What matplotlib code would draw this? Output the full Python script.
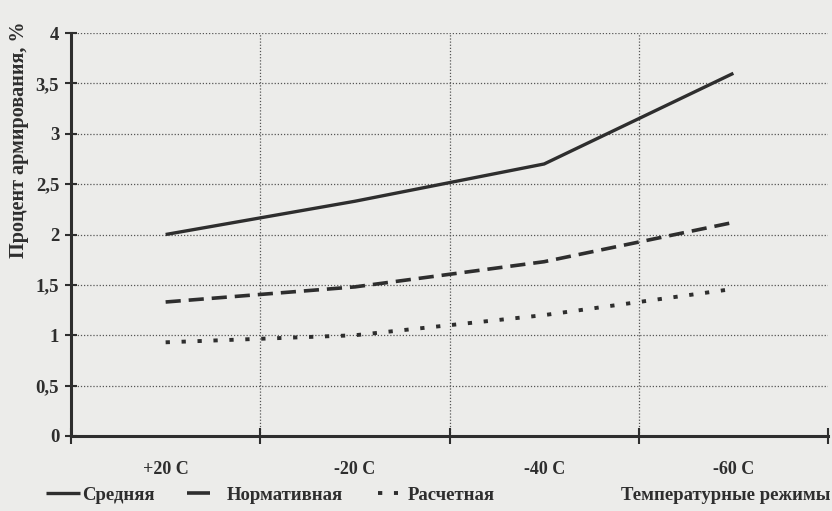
import matplotlib
matplotlib.use("Agg")
import matplotlib.pyplot as plt
from matplotlib.lines import Line2D
from matplotlib.ticker import FixedLocator, FixedFormatter

categories = ["+20 C", "-20 C", "-40 C", "-60 C"]
srednyaya = [2.0, 2.33, 2.7, 3.6]
normativnaya = [1.33, 1.48, 1.73, 2.12]
raschetnaya = [0.93, 1.0, 1.2, 1.46]
series_names = ["Средняя", "Нормативная", "Расчетная"]
y_ticks = [0, 0.5, 1, 1.5, 2, 2.5, 3, 3.5, 4]
y_tick_labels = ["0", "0,5", "1", "1,5", "2", "2,5", "3", "3,5", "4"]
x_title = "Температурные режимы"
y_title = "Процент армирования, %"

plt.rcParams['font.family'] = ['Liberation Serif', 'DejaVu Serif']
plt.rcParams['font.weight'] = 'bold'

bg = '#ececea'
ink = '#2e2e2e'
W, H = 832, 511
fig = plt.figure(figsize=(W / 100, H / 100), dpi=100, facecolor=bg)
ax = fig.add_axes([71 / W, 1 - 436 / H, (828 - 71) / W, (436 - 33) / H])
ax.set_facecolor(bg)

xs = [i + 0.5 for i in range(len(categories))]
l1, = ax.plot(xs, srednyaya, color=ink, lw=2.4, solid_capstyle='butt', label=series_names[0])
l2, = ax.plot(xs, normativnaya, color=ink, lw=2.6, dashes=(4.2, 2.2), dash_capstyle='butt', label=series_names[1])
l3, = ax.plot(xs, raschetnaya, color=ink, lw=2.8, dashes=(1.1, 3.0), dash_capstyle='butt', label=series_names[2])

ax.set_xlim(0, 4)
ax.set_ylim(0, 4)

for s in ['top', 'right']:
    ax.spines[s].set_visible(False)
for s in ['left', 'bottom']:
    ax.spines[s].set_linewidth(2.2)
    ax.spines[s].set_color(ink)

ax.yaxis.set_major_locator(FixedLocator(y_ticks))
ax.yaxis.set_major_formatter(FixedFormatter(y_tick_labels))
ax.tick_params(axis='y', direction='inout', length=9, width=1.5, colors=ink, labelsize=13.5, pad=4)

ax.xaxis.set_major_locator(FixedLocator([0, 1, 2, 3, 4]))
ax.xaxis.set_major_formatter(FixedFormatter(["", "", "", "", ""]))
ax.xaxis.set_minor_locator(FixedLocator(xs))
ax.xaxis.set_minor_formatter(FixedFormatter(categories))
ax.tick_params(axis='x', which='major', direction='inout', length=12, width=1.5, colors=ink)
ax.tick_params(axis='x', which='minor', length=0, labelsize=13, pad=18, colors=ink)

for y in y_ticks[1:]:
    ax.axhline(y, color='#555555', lw=0.9, ls=(0, (1, 1.5)), zorder=0)
for x in [1, 2, 3]:
    ax.axvline(x, color='#555555', lw=0.9, ls=(0, (1, 1.5)), zorder=0)

for lab in ax.get_yticklabels() + ax.get_xticklabels(minor=True):
    lab.set_fontweight('bold')

fig.text(19 / W, 1 - 140 / H, y_title, rotation=90, ha='center', va='center',
         fontsize=14.5, fontweight='bold', color=ink)

# legend entries (proxy handles in the same styles as the series)
leg_fs = 13.5
h1 = Line2D([], [], color=ink, lw=2.4, solid_capstyle='butt')
h2 = Line2D([], [], color=ink, lw=2.6, dashes=(10, 2), dash_capstyle='butt')
h3 = Line2D([], [], color=ink, lw=2.8, dashes=(1.1, 3.0), dash_capstyle='butt')
specs = [
    (h1, series_names[0], 46, 1.81, 0.1),
    (h2, series_names[1], 187, 1.23, 0.9),
    (h3, series_names[2], 378, 1.07, 0.5),
]
for h, name, x0, hl, tp in specs:
    lg = fig.legend(handles=[h], labels=[name], loc='center left',
                    bbox_to_anchor=(x0 / W, 1 - 495 / H), frameon=False,
                    handlelength=hl, handletextpad=tp, borderaxespad=0, borderpad=0,
                    prop={'weight': 'bold', 'size': leg_fs})
    for t in lg.get_texts():
        t.set_color(ink)

fig.text(830 / W, 1 - 495 / H, x_title, ha='right', va='center', fontsize=leg_fs,
         fontweight='bold', color=ink)

fig.savefig("out.png", dpi=100, facecolor=bg)
